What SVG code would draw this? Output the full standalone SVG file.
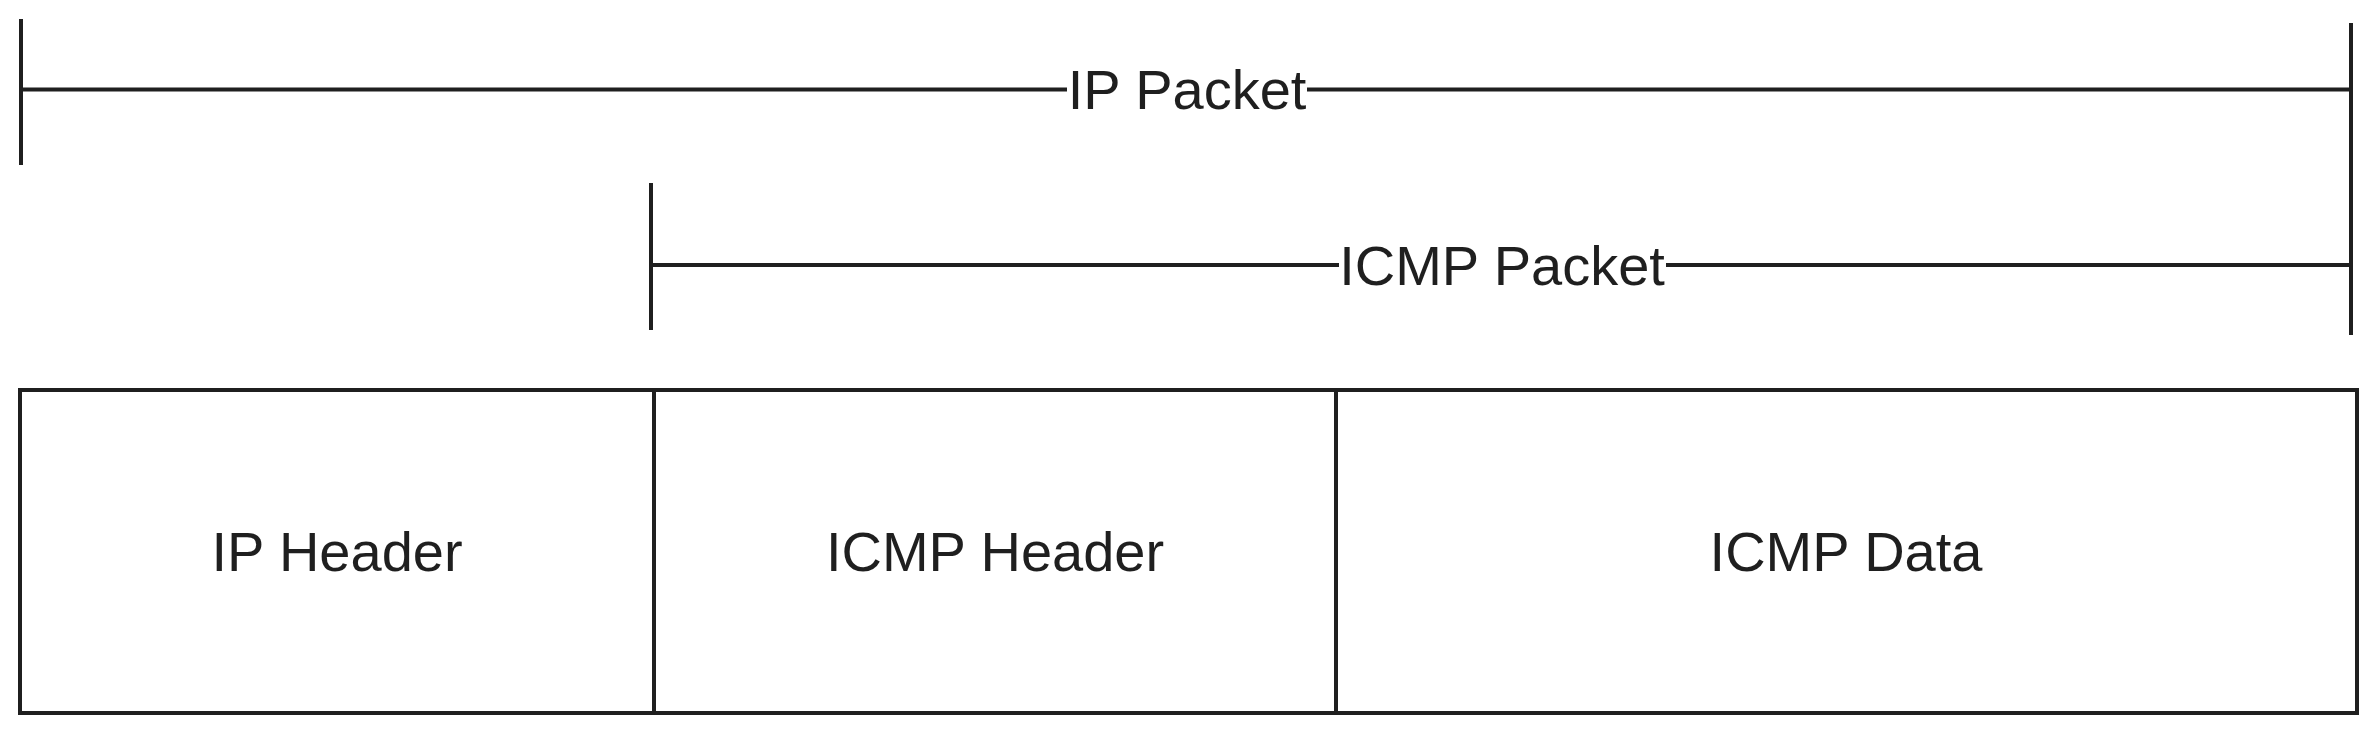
<svg xmlns="http://www.w3.org/2000/svg" width="2377" height="733" viewBox="0 0 2377 733">
<style>
.ln{stroke:#1f1f1f;stroke-width:4;fill:none;stroke-linecap:butt}
.t{font-family:"Liberation Sans",Arial,sans-serif;font-size:56px;fill:#1f1f1f;text-anchor:middle}
</style>
<rect width="2377" height="733" fill="#ffffff"/>
<g id="connectors">
<g id="ip-packet-span">
<line class="ln" x1="21" y1="19" x2="21" y2="165"/>
<line class="ln" x1="21" y1="89.5" x2="1067" y2="89.5"/>
<line class="ln" x1="1307" y1="89.5" x2="2351" y2="89.5"/>
<line class="ln" x1="2351" y1="23" x2="2351" y2="335"/>
</g>
<g id="icmp-packet-span">
<line class="ln" x1="651" y1="183" x2="651" y2="330"/>
<line class="ln" x1="651" y1="265" x2="1339" y2="265"/>
<line class="ln" x1="1666" y1="265" x2="2351" y2="265"/>
</g>
</g>
<g id="label-ip-packet"><text class="t" x="1187" y="109">IP Packet</text></g>
<g id="label-icmp-packet"><text class="t" x="1502" y="285">ICMP Packet</text></g>
<g id="node-ip-header">
<rect class="ln" x="20" y="390" width="634" height="323"/>
<text class="t" x="337" y="571">IP Header</text>
</g>
<g id="node-icmp-header">
<rect class="ln" x="654" y="390" width="682" height="323"/>
<text class="t" x="995" y="571">ICMP Header</text>
</g>
<g id="node-icmp-data">
<rect class="ln" x="1336" y="390" width="1021" height="323"/>
<text class="t" x="1846" y="571">ICMP Data</text>
</g>
</svg>
